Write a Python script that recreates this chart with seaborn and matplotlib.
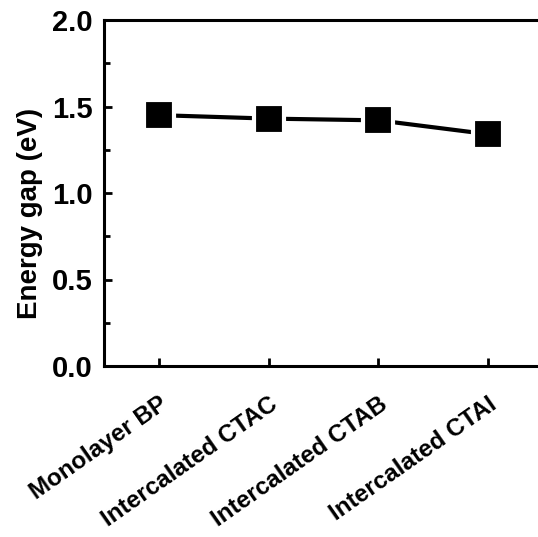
import matplotlib
matplotlib.use("Agg")
import matplotlib.pyplot as plt
import matplotlib.transforms as mtransforms
import seaborn as sns
import pandas as pd
from matplotlib.ticker import MultipleLocator

categories = ["Monolayer BP", "Intercalated CTAC", "Intercalated CTAB", "Intercalated CTAI"]
energy_gap = [1.45, 1.43, 1.42, 1.34]

df = pd.DataFrame({"cat": categories, "gap": energy_gap, "x": range(len(categories))})

sns.set_style("ticks")
plt.rcParams["font.family"] = ["Liberation Sans", "DejaVu Sans"]
plt.rcParams["font.weight"] = "bold"
plt.rcParams["text.color"] = "black"
plt.rcParams["axes.labelcolor"] = "black"
plt.rcParams["xtick.color"] = "black"
plt.rcParams["ytick.color"] = "black"
plt.rcParams["axes.edgecolor"] = "black"

fig = plt.figure(figsize=(5.38, 5.37), dpi=100)
ax = fig.add_axes([104 / 538, 1 - 366 / 537, 439 / 538, 346 / 537])

sns.lineplot(data=df, x="x", y="gap", ax=ax, color="black", linewidth=3,
             marker="s", markersize=21, markeredgecolor="white", markeredgewidth=3)

ax.set_xlim(-0.5, 3.5)
ax.set_ylim(0, 2.0)
ax.set_xticks(range(len(categories)))
ax.set_xticklabels(categories, rotation=35, ha="right", rotation_mode="anchor",
                   fontsize=17.5, fontweight="bold", color="black")
offset = mtransforms.ScaledTranslation(-4 / 100, 4 / 100, fig.dpi_scale_trans)
for lab in ax.get_xticklabels():
    lab.set_transform(lab.get_transform() + offset)
ax.yaxis.set_major_locator(MultipleLocator(0.5))
ax.yaxis.set_minor_locator(MultipleLocator(0.25))
ax.yaxis.set_major_formatter(matplotlib.ticker.FormatStrFormatter("%.1f"))
for lab in ax.get_yticklabels():
    lab.set_fontsize(21)
    lab.set_fontweight("bold")
    lab.set_color("black")
ax.set_xlabel("")
ax.set_ylabel("Energy gap (eV)", fontsize=20, fontweight="bold", color="black")
ax.yaxis.set_label_coords(-0.139, 0.442)

for s in ["left", "bottom", "top", "right"]:
    ax.spines[s].set_linewidth(2.2)
    ax.spines[s].set_color("black")
ax.tick_params(axis="both", which="major", direction="in", length=6, width=2, pad=8,
               colors="black")
ax.tick_params(axis="y", which="minor", direction="in", length=4, width=2, colors="black")
ax.tick_params(axis="x", which="major", pad=19)

fig.savefig("out.png", dpi=100)
